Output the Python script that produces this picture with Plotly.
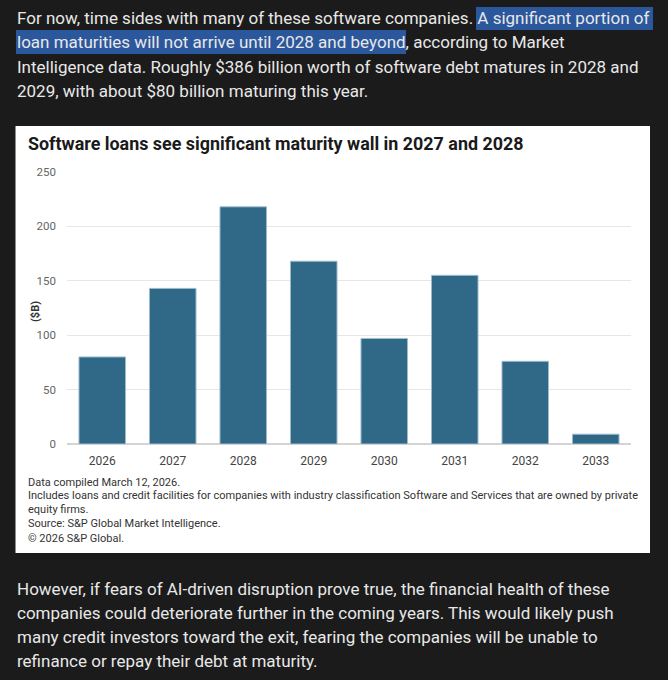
import plotly.graph_objects as go

# ==== data =====
years = ['2026', '2027', '2028', '2029', '2030', '2031', '2032', '2033']
loans_bn = [80, 143, 218, 168, 97, 155, 76, 9]
y_ticks = [0, 50, 100, 150, 200, 250]

title_txt = 'Software loans see significant maturity wall in 2027 and 2028'
notes = ['Data compiled March 12, 2026.',
         'Includes loans and credit facilities for companies with industry classification Software and Services that are owned by private<br>equity firms.',
         'Source: S&P Global Market Intelligence.',
         '\u00a9 2026 S&P Global.']
top_lines = ['For now, time sides with many of these software companies. A significant portion of',
             'loan maturities will not arrive until 2028 and beyond, according to Market',
             'Intelligence data. Roughly $386 billion worth of software debt matures in 2028 and',
             '2029, with about $80 billion maturing this year.']
bot_lines = ['However, if fears of AI-driven disruption prove true, the financial health of these',
             'companies could deteriorate further in the coming years. This would likely push',
             'many credit investors toward the exit, fearing the companies will be unable to',
             'refinance or repay their debt at maturity.']

# ==== settings =====
W, H = 668, 680
pl, pr, pt, pb = 67, 631, 172, 444   # plot box in pixels
bg = '#1b1b1b'
txt_col = '#e8e8e8'
bar_col = '#2f6987'
body_font = 'Roboto'
note_font = 'Roboto'


def px(x):
    return (x - pl) / (pr - pl)


def py(y):
    return (pb - y) / (pb - pt)


fig = go.Figure()
fig.add_trace(go.Bar(x=years, y=loans_bn, marker=dict(color=bar_col, line=dict(color='#9cbccc', width=1)),
                     width=0.66, hoverinfo='x+y'))

shapes = [
    # white chart panel
    dict(type='rect', xref='paper', yref='paper', x0=px(15.5), x1=px(650), y0=py(126), y1=py(553),
         fillcolor='white', line=dict(width=0), layer='below'),
    # text selection highlight
    dict(type='rect', xref='paper', yref='paper', x0=px(476), x1=px(653), y0=py(7), y1=py(30),
         fillcolor='#2b579c', line=dict(width=0), layer='below'),
    dict(type='rect', xref='paper', yref='paper', x0=px(16), x1=px(406), y0=py(30), y1=py(54),
         fillcolor='#2b579c', line=dict(width=0), layer='below'),
]

ann = []
for i, t in enumerate(top_lines):
    ann.append(dict(text=t, x=px(15), y=py(18 + i * 24.3), xanchor='left', yanchor='middle',
                    font=dict(family=body_font, size=17, color=txt_col)))
for i, t in enumerate(bot_lines):
    ann.append(dict(text=t, x=px(15), y=py(589 + i * 24), xanchor='left', yanchor='middle',
                    font=dict(family=body_font, size=17, color=txt_col)))
ann.append(dict(text='<b>' + title_txt + '</b>', x=px(26), y=py(144), xanchor='left', yanchor='middle',
                font=dict(family='Roboto', size=17.9, color='#1a1a1a')))
ann.append(dict(text='<b>($B)</b>', x=px(35), y=py(312), textangle=-90, xanchor='center', yanchor='middle',
                font=dict(family=note_font, size=11, color='#333333')))
note_y = [482, 502.5, 523, 538]
for t, yy in zip(notes, note_y):
    ann.append(dict(text=t, x=px(26), y=py(yy), xanchor='left', yanchor='middle', align='left',
                    font=dict(family=note_font, size=11, color='#333333')))
for a in ann:
    a.update(xref='paper', yref='paper', showarrow=False)

fig.update_xaxes(showgrid=False, showline=False, ticks='', ticklabelstandoff=8,
                 tickfont=dict(family=note_font, size=12, color='#444444'), fixedrange=True)
fig.update_yaxes(range=[0, 250], tickvals=y_ticks, showgrid=True, gridcolor='#e6e6e6', gridwidth=1,
                 zeroline=True, zerolinecolor='#d4d4d4', zerolinewidth=1.5, showline=False,
                 ticklabelstandoff=10, tickfont=dict(family=note_font, size=11.5, color='#666666'),
                 fixedrange=True)
fig.update_layout(
    width=W, height=H,
    margin=dict(l=pl, r=W - pr, t=pt, b=H - pb),
    paper_bgcolor=bg, plot_bgcolor='rgba(0,0,0,0)',
    bargap=0.34, showlegend=False,
    shapes=shapes, annotations=ann,
)

fig.write_html('out.html', config={'displayModeBar': False},
               post_script="document.body.style.margin='0px';document.body.style.background='%s';" % bg)
